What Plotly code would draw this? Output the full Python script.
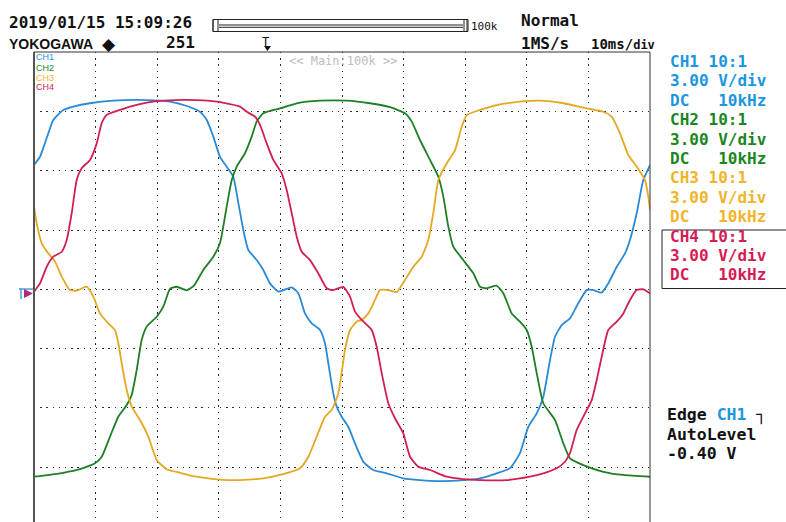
import plotly.graph_objects as go

# ---- data (time in ms, voltage in V; 3 V/div, 10 ms/div) ----
ch1_t = [0, 0.97, 2.06, 3.13, 4.76, 6.38, 9.09, 12.82, 18.3, 22.08, 24.79, 26.95, 28.04, 29.11, 30.19, 31.28,
         32.35, 33.17, 33.98, 34.79, 36.15, 37.22, 38.31, 39.66, 41.84, 42.91, 43.99, 45.08, 46.43, 47.24, 47.78,
         48.59, 49.14, 49.95, 51.02, 52.11, 53.46, 55.08, 57.26, 59.95, 62.66, 65.9, 69.69, 72.4, 75.11, 77.27,
         78.89, 80.24, 81.61, 82.68, 83.77, 84.58, 85.67, 87.01, 88.36, 89.72, 90.8, 92.16, 93.23, 94.6, 95.94,
         96.75, 97.84, 98.91, 100]
ch1_v = [6.29, 6.71, 7.66, 8.57, 9.08, 9.25, 9.42, 9.55, 9.58, 9.5, 9.28, 8.99, 8.57, 7.73, 6.71, 6.21,
         5.7, 4.38, 3.0, 1.99, 1.48, 0.98, 0.3, -0.12, 0.1, -0.2, -1.22, -1.72, -2.06, -2.73, -3.75,
         -5.27, -5.94, -6.45, -6.96, -7.8, -8.73, -9.15, -9.32, -9.57, -9.66, -9.71, -9.66, -9.57, -9.32, -9.06,
         -8.3, -6.96, -6.28, -5.44, -3.58, -2.4, -1.81, -1.47, -0.71, -0.04, -0.04, -0.17, 0.3, 1.14, 1.82,
         2.5, 3.85, 5.53, 6.29]

ch2_t = [0, 4.76, 7.47, 9.9, 10.99, 12.34, 13.69, 15.05, 15.86, 16.67, 17.48, 18.3, 19.92, 20.99, 22.08, 23.17,
         24.79, 25.97, 27.48, 29.11, 30.19, 31.28, 32.1, 32.91, 34.25, 35.34, 36.15, 37.22, 39.94, 42.65, 46.43,
         50.76, 54.55, 57.79, 60.23, 61.32, 62.66, 64.29, 65.64, 66.45, 67.26, 68.07, 69.69, 71.32, 72.4, 73.49,
         75.11, 76.19, 77.55, 78.89, 79.98, 80.8, 81.61, 82.68, 84.58, 85.93, 87.01, 89.17, 92.42, 95.67, 100]
ch2_v = [-9.49, -9.29, -9.11, -8.81, -8.48, -7.46, -6.45, -5.86, -5.35, -4.09, -2.57, -1.89, -1.39, -0.88, 0.02, 0.13,
         -0.05, 0.19, 0.98, 1.65, 2.33, 4.18, 5.53, 6.21, 6.89, 7.73, 8.49, 8.91, 9.16, 9.42, 9.55,
         9.55, 9.42, 9.22, 8.91, 8.49, 7.56, 6.55, 5.7, 4.69, 3.17, 2.16, 1.48, 0.81, 0.13, 0.05,
         0.18, -0.2, -1.22, -1.64, -2.06, -2.91, -4.25, -5.77, -6.62, -7.8, -8.56, -8.9, -9.24, -9.4, -9.49]

ch3_t = [0, 0.44, 1.25, 2.32, 3.41, 4.5, 5.84, 6.93, 8.56, 9.63, 10.71, 12.06, 13.15, 13.69, 14.24, 15.05,
         15.86, 17.21, 18.56, 19.92, 21.54, 23.7, 26.41, 29.66, 33.44, 37.22, 39.94, 43.18, 44.53, 45.89, 47.24,
         48.33, 49.4, 50.49, 51.3, 52.39, 53.2, 54.27, 55.36, 56.17, 57.52, 58.88, 60.23, 61.58, 62.94, 64.01,
         64.82, 65.64, 67.0, 68.35, 69.43, 70.24, 72.4, 75.11, 78.89, 82.14, 85.93, 89.72, 92.42, 93.78, 95.13,
         96.48, 97.84, 99.19, 99.73, 100]
ch3_v = [4.18, 3.34, 2.33, 1.82, 1.4, 0.64, -0.04, -0.07, 0.14, -0.37, -1.22, -1.72, -2.06, -2.73, -3.75, -5.1,
         -5.94, -6.62, -7.46, -8.64, -9.11, -9.29, -9.49, -9.62, -9.66, -9.57, -9.4, -9.06, -8.48, -7.46, -6.45,
         -6.11, -5.27, -3.07, -2.06, -1.64, -1.55, -1.22, -0.54, -0.04, -0.04, -0.14, 0.47, 1.14, 1.65, 2.5,
         3.85, 5.53, 6.38, 7.05, 8.23, 8.82, 9.08, 9.33, 9.5, 9.55, 9.42, 9.16, 8.99, 8.74, 7.9,
         6.8, 6.21, 5.53, 4.69, 4.02]

ch4_t = [0, 0.97, 2.06, 3.13, 4.5, 5.31, 6.12, 6.93, 7.74, 9.09, 10.18, 10.99, 11.8, 13.96, 15.58, 18.3,
         20.99, 26.41, 29.66, 33.44, 34.53, 35.88, 36.69, 37.78, 38.85, 40.21, 41.02, 41.84, 42.65, 43.46, 44.81,
         46.15, 47.52, 48.59, 50.21, 51.3, 52.11, 53.2, 54.82, 55.63, 56.45, 57.52, 58.6, 59.95, 61.04, 62.39,
         64.29, 67.0, 69.69, 72.4, 76.74, 80.52, 82.68, 84.85, 86.2, 87.01, 88.1, 89.45, 90.54, 91.35, 92.16,
         93.23, 94.6, 95.67, 96.75, 97.84, 98.91, 100]
ch4_v = [-0.12, 0.3, 1.14, 1.65, 1.9, 2.5, 3.85, 5.53, 6.13, 6.55, 7.39, 8.41, 8.83, 9.08, 9.25, 9.45,
         9.55, 9.58, 9.5, 9.25, 8.99, 8.74, 8.32, 7.39, 6.55, 5.87, 5.03, 3.85, 2.66, 1.9, 1.48,
         0.81, 0.05, -0.04, 0.12, -0.37, -1.13, -1.55, -2.06, -2.91, -4.25, -5.77, -6.53, -7.29, -8.48, -8.98,
         -9.15, -9.49, -9.61, -9.66, -9.66, -9.49, -9.32, -9.06, -8.73, -8.3, -7.12, -6.28, -5.61, -4.59, -3.41,
         -2.06, -1.64, -1.22, -0.54, -0.04, 0.0, -0.2]

channel_names = ["CH1", "CH2", "CH3", "CH4"]
line_colors = ["#2b8ad6", "#1f7f24", "#e5a823", "#d2204e"]
text_colors = ["#1c96e0", "#1a861e", "#f0b52a", "#d41c55"]
series = [(ch1_t, ch1_v), (ch2_t, ch2_v), (ch3_t, ch3_v), (ch4_t, ch4_v)]

# ---- geometry helpers (page pixels -> paper coords) ----
W, H = 786, 522
L, R, T, B = 34, 136, 52, 0
PW, PH = W - L - R, H - T - B


def px(x):
    return (x - L) / PW


def py(y):
    return (H - B - y) / PH


fig = go.Figure()
for (t, v), name, col in zip(series, channel_names, line_colors):
    fig.add_trace(go.Scatter(x=t, y=v, mode="lines", name=name,
                             line=dict(color=col, width=1.8, shape="spline", smoothing=0.5),
                             hoverinfo="skip", showlegend=False))

# y range: top of frame 52px, page bottom 522px; 59.25 px per 3 V, zero at 289.3 px
v_per_px = 3 / 59.25
y_top = (289.3 - 52) * v_per_px
y_bot = (289.3 - 522) * v_per_px

grid = dict(showgrid=True, gridcolor="#2a2a2a", gridwidth=1.2, griddash="1.4px,4.8px",
            zeroline=False, showticklabels=False, ticks="", showline=False)
fig.update_xaxes(range=[0, 100], dtick=10, tick0=0, **grid)
fig.update_yaxes(range=[y_bot, y_top], dtick=3, tick0=0, **grid)

shapes = []
# frame
shapes.append(dict(type="line", xref="paper", yref="paper", x0=0, x1=0, y0=0, y1=1,
                   line=dict(color="#555555", width=2)))
shapes.append(dict(type="line", xref="paper", yref="paper", x0=0, x1=1, y0=1, y1=1,
                   line=dict(color="#333333", width=1)))
shapes.append(dict(type="line", xref="paper", yref="paper", x0=1, x1=1, y0=0, y1=1,
                   line=dict(color="#333333", width=1)))
# record-length bar at top
shapes.append(dict(type="rect", xref="paper", yref="paper", x0=px(213), x1=px(467), y0=py(31.5), y1=py(19.5),
                   line=dict(color="#222", width=1)))
for yy in (25.0, 27.3):
    shapes.append(dict(type="line", xref="paper", yref="paper", x0=px(219), x1=px(463), y0=py(yy), y1=py(yy),
                       line=dict(color="#222", width=1)))
shapes.append(dict(type="rect", xref="paper", yref="paper", x0=px(213), x1=px(218), y0=py(31.5), y1=py(19.5),
                   line=dict(color="#222", width=1)))
shapes.append(dict(type="rect", xref="paper", yref="paper", x0=px(464), x1=px(468), y0=py(31.5), y1=py(19.5),
                   line=dict(color="#222", width=1)))
# trigger position marker triangle
shapes.append(dict(type="path", xref="paper", yref="paper",
                   path=f"M {px(264)} {py(46)} L {px(271)} {py(46)} L {px(267.5)} {py(51)} Z",
                   fillcolor="#111", line=dict(width=0)))
# ground-level markers at left
shapes.append(dict(type="line", xref="paper", yref="paper", x0=px(21), x1=px(21), y0=py(288), y1=py(299),
                   line=dict(color="#4aa0e0", width=1.5)))
shapes.append(dict(type="line", xref="paper", yref="paper", x0=px(19), x1=px(33), y0=py(289), y1=py(289),
                   line=dict(color="#4aa0e0", width=1.5)))
shapes.append(dict(type="path", xref="paper", yref="paper",
                   path=f"M {px(24)} {py(289)} L {px(33)} {py(293.5)} L {px(24)} {py(298)} Z",
                   fillcolor="#b0287a", line=dict(width=0)))
# CH4 highlight box on the right panel
shapes.append(dict(type="rect", xref="paper", yref="paper", x0=px(662), x1=px(790), y0=py(288.5), y1=py(230),
                   line=dict(color="#222", width=1)))

annotations = []
MONO = "DejaVu Sans Mono"


def text(x, y, s, size=16, color="#111", family=MONO, anchor="left"):
    annotations.append(dict(xref="paper", yref="paper", x=px(x), y=py(y), text=s, showarrow=False,
                            xanchor=anchor, yanchor="middle", borderpad=0,
                            font=dict(family=family, size=size, color=color)))


text(8, 22, "<b>2019/01/15 15:09:26</b>", 16)
text(8, 44, "<b>YOKOGAWA</b>", 14, family="Liberation Sans")
text(101, 44, "◆", 17, family="DejaVu Sans")
text(165, 43, "<b>251</b>", 16)
text(470, 26, "100k", 11)
text(261, 42, "T", 12)
text(520, 21, "<b>Normal</b>", 16)
text(520, 44, "<b>1MS/s</b>", 16)
text(590, 44, "<b>10ms/<span style='font-size:12px'>div</span></b>", 14)
text(288, 61, "&lt;&lt; Main:100k &gt;&gt;", 12, color="#bdbdbd")

for i, (name, col) in enumerate(zip(channel_names, text_colors)):
    text(35, 57.5 + 10 * i, name, 9, color=col, family="Liberation Sans")
    base = 61.5 + 19.4 * 3 * i
    text(669, base, f"<b>{name} 10:1</b>", 16, color=col)
    text(669, base + 19.4, "<b>3.00 V/div</b>", 16, color=col)
    text(669, base + 38.8, "<b>DC   10kHz</b>", 16, color=col)

text(666, 415, f"<b>Edge <span style='color:{text_colors[0]}'>CH1</span> ┐</b>", 16.5)
text(666, 434, "<b>AutoLevel</b>", 16.5)
text(666, 453, "<b>-0.40 V</b>", 16.5)

fig.update_layout(width=W, height=H, margin=dict(l=L, r=R, t=T, b=B, pad=0),
                  paper_bgcolor="white", plot_bgcolor="white",
                  shapes=shapes, annotations=annotations, showlegend=False)

fig.write_html("out.html", config={"displayModeBar": False},
               post_script="document.body.style.margin='0';document.body.style.overflow='hidden';")
